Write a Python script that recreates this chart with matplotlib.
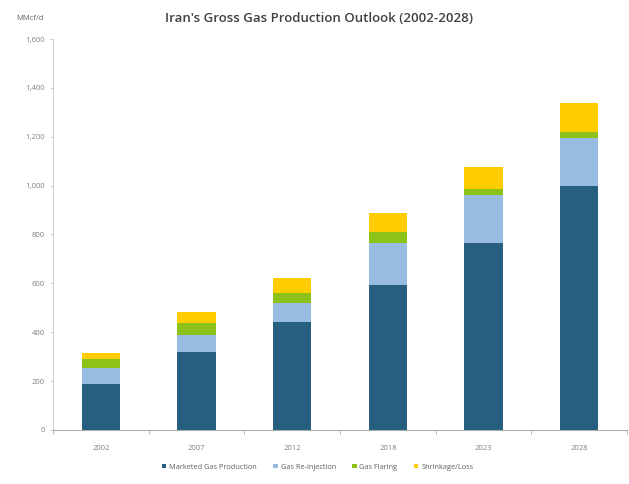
import matplotlib
matplotlib.use("Agg")
import matplotlib.pyplot as plt
import numpy as np

years = ["2002", "2007", "2012", "2018", "2023", "2028"]
marketed = [190, 320, 440, 595, 765, 1000]
reinjection = [65, 68, 78, 170, 195, 195]
flaring = [37, 50, 42, 45, 25, 25]
shrinkage = [25, 45, 60, 80, 90, 120]

series_names = ["Marketed Gas Production", "Gas Re-injection", "Gas Flaring", "Shrinkage/Loss"]
colors = ["#265f80", "#98bbe0", "#8cc21a", "#ffcc00"]

plt.rcParams['font.family'] = ['Open Sans', 'DejaVu Sans']

fig = plt.figure(figsize=(6.29, 4.84), dpi=100)
ax = fig.add_axes([0.0843, 0.1116, 0.9127, 0.8078])

x = np.arange(len(years))
bottom = np.zeros(len(years))
for vals, name, c in zip([marketed, reinjection, flaring, shrinkage], series_names, colors):
    ax.bar(x, vals, width=0.4, bottom=bottom, color=c, label=name, zorder=3)
    bottom += np.array(vals)

ax.set_xlim(-0.5, len(years) - 0.5)
ax.set_ylim(0, 1600)
ax.set_yticks(np.arange(0, 1601, 200))
ax.set_yticklabels([f"{v:,}" for v in range(0, 1601, 200)])
ax.set_xticks(x)
ax.set_xticklabels(years)
ax.set_xticks(np.arange(-0.5, len(years), 1), minor=True)

for s in ["top", "right"]:
    ax.spines[s].set_visible(False)
ax.spines["left"].set_color("#d0d0d0")
ax.spines["bottom"].set_color("#b0b0b0")
ax.tick_params(axis="y", labelsize=5.5, colors="#d0d0d0", labelcolor="#808080", length=2, pad=4)
ax.tick_params(axis="x", which="major", length=0, labelsize=5.5, labelcolor="#808080", pad=11)
ax.tick_params(axis="x", which="minor", length=3, color="#b0b0b0")

fig.text(0.507, 0.962, "Iran's Gross Gas Production Outlook (2002-2028)", ha="center", va="center",
         fontsize=9.5, fontweight="semibold", color="#404040")
fig.text(0.026, 0.962, "MMcf/d", ha="left", va="center", fontsize=5.5, color="#606060")

leg = fig.legend(loc="center", bbox_to_anchor=(0.505, 0.035), ncol=4, frameon=False,
                 fontsize=5.3, handlelength=0.6, handleheight=0.6, columnspacing=2.2,
                 handletextpad=0.4)
for t in leg.get_texts():
    t.set_color("#606060")

fig.savefig("out.png", dpi=100, facecolor="white")
